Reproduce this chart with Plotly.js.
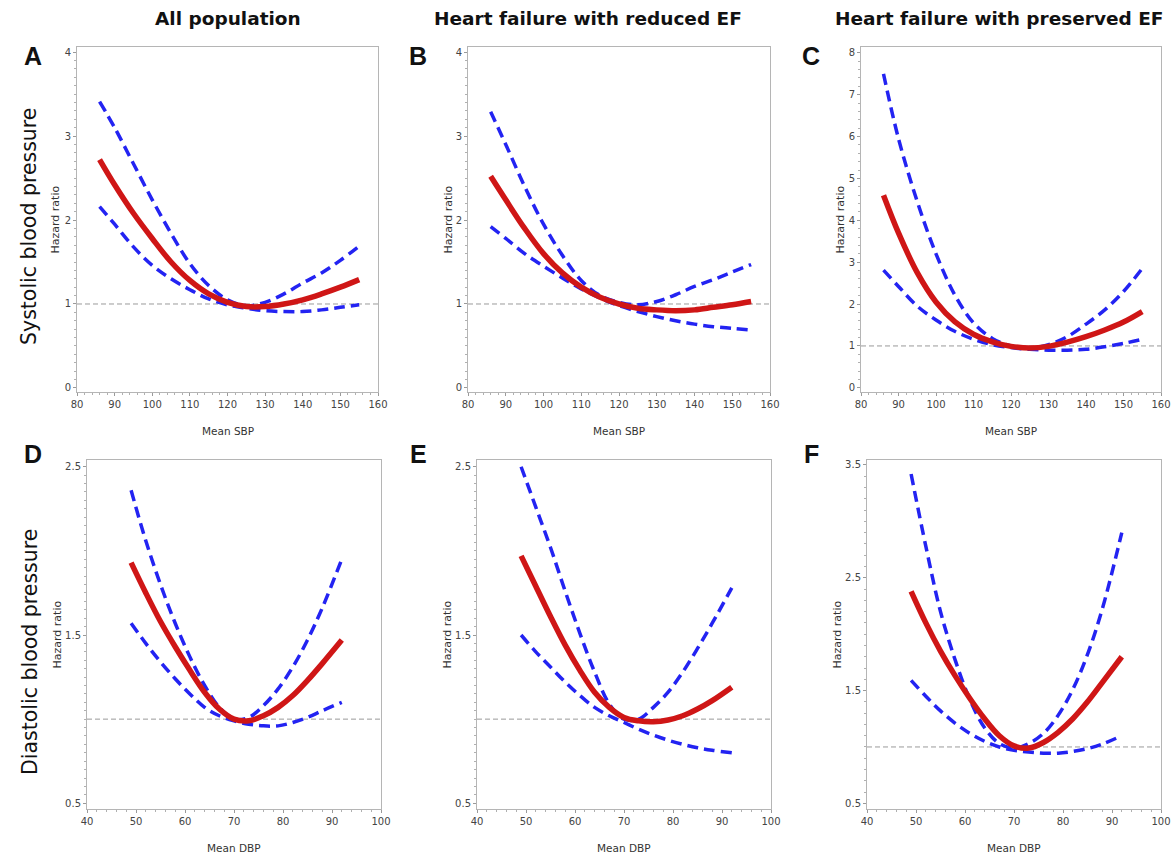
<!DOCTYPE html>
<html>
<head>
<meta charset="utf-8">
<script src="https://cdn.plot.ly/plotly-3.0.1.min.js"></script>
<style>html,body{margin:0;padding:0;background:#fff;}#chart{width:1171px;height:854px;}</style>
</head>
<body>
<div id="chart"></div>
<script>
// ---- Data ----
const sbp = [86, 90, 95, 100, 105, 110, 115, 120, 125, 130, 135, 140, 145, 150, 155];
const dbp = [49, 52, 55, 58, 61, 64, 67, 70, 73, 76, 79, 82, 85, 88, 92];

// A: all population, SBP
const hrA = [2.72, 2.42, 2.08, 1.78, 1.50, 1.28, 1.12, 1.02, 0.97, 0.97, 1.00, 1.05, 1.12, 1.20, 1.29];
const hiA = [3.41, 3.10, 2.67, 2.24, 1.84, 1.48, 1.22, 1.05, 0.98, 1.02, 1.12, 1.25, 1.37, 1.52, 1.69];
const loA = [2.16, 1.95, 1.68, 1.46, 1.30, 1.17, 1.06, 0.99, 0.95, 0.92, 0.91, 0.91, 0.93, 0.96, 0.99];
// B: HFrEF, SBP
const hrB = [2.52, 2.24, 1.90, 1.60, 1.37, 1.20, 1.08, 1.00, 0.95, 0.93, 0.92, 0.93, 0.96, 0.99, 1.03];
const hiB = [3.29, 2.90, 2.40, 1.95, 1.58, 1.28, 1.10, 1.02, 0.99, 1.03, 1.11, 1.21, 1.29, 1.38, 1.47];
const loB = [1.92, 1.78, 1.60, 1.45, 1.31, 1.18, 1.07, 0.98, 0.91, 0.85, 0.80, 0.76, 0.73, 0.71, 0.69];
// C: HFpEF, SBP
const hrC = [4.60, 3.70, 2.75, 2.05, 1.58, 1.28, 1.10, 0.99, 0.95, 0.99, 1.09, 1.22, 1.38, 1.57, 1.82];
const hiC = [7.50, 5.95, 4.45, 3.20, 2.22, 1.55, 1.18, 1.00, 0.95, 1.03, 1.22, 1.52, 1.86, 2.30, 2.85];
const loC = [2.81, 2.42, 1.95, 1.62, 1.35, 1.16, 1.03, 0.96, 0.92, 0.90, 0.90, 0.92, 0.98, 1.06, 1.16];
// D: all population, DBP
const hrD = [1.93, 1.75, 1.58, 1.43, 1.29, 1.16, 1.06, 1.00, 0.99, 1.02, 1.07, 1.14, 1.23, 1.33, 1.47];
const hiD = [2.36, 2.06, 1.80, 1.57, 1.37, 1.20, 1.07, 1.00, 1.01, 1.08, 1.18, 1.31, 1.47, 1.66, 1.95];
const loD = [1.57, 1.45, 1.34, 1.24, 1.15, 1.07, 1.02, 0.99, 0.97, 0.96, 0.96, 0.98, 1.01, 1.05, 1.10];
// E: HFrEF, DBP
const hrE = [1.97, 1.79, 1.61, 1.44, 1.29, 1.16, 1.07, 1.01, 0.99, 0.985, 0.995, 1.02, 1.06, 1.11, 1.19];
const hiE = [2.50, 2.26, 2.02, 1.76, 1.51, 1.28, 1.09, 1.00, 1.00, 1.07, 1.16, 1.28, 1.42, 1.57, 1.78];
const loE = [1.50, 1.40, 1.31, 1.22, 1.14, 1.07, 1.02, 0.98, 0.94, 0.905, 0.875, 0.85, 0.83, 0.815, 0.80];
// F: HFpEF, DBP
const hrF = [2.38, 2.10, 1.85, 1.63, 1.43, 1.25, 1.10, 1.01, 0.99, 1.04, 1.13, 1.25, 1.40, 1.57, 1.80];
const hiF = [3.42, 2.78, 2.20, 1.77, 1.42, 1.17, 1.03, 0.99, 1.03, 1.12, 1.28, 1.51, 1.82, 2.22, 2.90];
const loF = [1.59, 1.45, 1.32, 1.21, 1.12, 1.05, 1.00, 0.97, 0.955, 0.945, 0.945, 0.96, 0.985, 1.025, 1.10];

const colTitles = ["All population", "Heart failure with reduced EF", "Heart failure with preserved EF"];
const rowTitles = ["Systolic blood pressure", "Diastolic blood pressure"];
const panelLetters = ["A", "B", "C", "D", "E", "F"];
const yTitle = "Hazard ratio";
const xTitles = ["Mean SBP", "Mean DBP"];
const refHR = 1;

const sbpTicks = [80, 90, 100, 110, 120, 130, 140, 150, 160];
const dbpTicks = [40, 50, 60, 70, 80, 90, 100];
const yTicksAB = [0, 1, 2, 3, 4];
const yTicksC = [0, 1, 2, 3, 4, 5, 6, 7, 8];
const yTicksDE = [0.5, 1.5, 2.5];
const yTicksF = [0.5, 1.5, 2.5, 3.5];

// ---- Layout geometry (pixels) ----
const W = 1171, H = 854;
const panels = [
  {x: sbp, hr: hrA, hi: hiA, lo: loA, px: [77, 378], py: [47, 392], xr: [80, 160], yr: [-0.048, 4.06], xt: sbpTicks, yt: yTicksAB, ymin: 0.1, row: 0, tOff: 22},
  {x: sbp, hr: hrB, hi: hiB, lo: loB, px: [468, 770], py: [47, 392], xr: [80, 160], yr: [-0.048, 4.06], xt: sbpTicks, yt: yTicksAB, ymin: 0.1, row: 0, tOff: 20},
  {x: sbp, hr: hrC, hi: hiC, lo: loC, px: [861, 1161], py: [47, 392], xr: [80, 160], yr: [-0.10, 8.14], xt: sbpTicks, yt: yTicksC, ymin: 0.2, row: 0, tOff: 21},
  {x: dbp, hr: hrD, hi: hiD, lo: loD, px: [87, 381], py: [460, 809], xr: [40, 100], yr: [0.466, 2.54], xt: dbpTicks, yt: yTicksDE, ymin: 0.05, row: 1, tOff: 30},
  {x: dbp, hr: hrE, hi: hiE, lo: loE, px: [477, 771], py: [460, 809], xr: [40, 100], yr: [0.466, 2.54], xt: dbpTicks, yt: yTicksDE, ymin: 0.05, row: 1, tOff: 30},
  {x: dbp, hr: hrF, hi: hiF, lo: loF, px: [867, 1161], py: [460, 809], xr: [40, 100], yr: [0.45, 3.544], xt: dbpTicks, yt: yTicksF, ymin: 0.1, row: 1, tOff: 30}
];

const RED = '#cf1616', BLUE = '#2323f2';
const tickFont = {family: 'DejaVu Sans, Arial, sans-serif', size: 10, color: '#444'};
const traces = [], shapes = [], annotations = [];
const layout = {
  width: W, height: H, margin: {l: 0, r: 0, t: 0, b: 0},
  paper_bgcolor: '#fff', plot_bgcolor: '#fff', showlegend: false
};

panels.forEach((p, i) => {
  const n = i + 1;
  const xa = 'x' + (n === 1 ? '' : n), ya = 'y' + (n === 1 ? '' : n);
  const xk = 'xaxis' + (n === 1 ? '' : n), yk = 'yaxis' + (n === 1 ? '' : n);
  layout[xk] = {
    domain: [p.px[0] / W, p.px[1] / W], anchor: ya, range: p.xr,
    tickmode: 'array', tickvals: p.xt, ticktext: p.xt.map(String),
    showline: true, mirror: true, linecolor: '#b5b5b5', linewidth: 1,
    ticks: 'outside', ticklen: 3, tickcolor: '#9a9a9a', tickfont: tickFont,
    minor: {ticks: 'outside', ticklen: 2, dtick: 2, tickcolor: '#b0b0b0', showgrid: false},
    showgrid: false, zeroline: false, fixedrange: true
  };
  layout[yk] = {
    domain: [1 - p.py[1] / H, 1 - p.py[0] / H], anchor: xa, range: p.yr,
    tickmode: 'array', tickvals: p.yt, ticktext: p.yt.map(String),
    showline: true, mirror: true, linecolor: '#b5b5b5', linewidth: 1,
    ticks: 'outside', ticklen: 3, tickcolor: '#9a9a9a', tickfont: tickFont,
    minor: {ticks: 'outside', ticklen: 2, dtick: p.ymin, tick0: 0, tickcolor: '#b0b0b0', showgrid: false},
    showgrid: false, zeroline: false, fixedrange: true
  };
  // reference line HR = 1
  shapes.push({type: 'line', xref: xa + ' domain', yref: ya, x0: 0, x1: 1, y0: refHR, y1: refHR,
    line: {color: '#9a9a9a', width: 1, dash: '5px,3px'}, layer: 'below'});
  const common = {xaxis: xa, yaxis: ya, mode: 'lines', hoverinfo: 'skip'};
  traces.push(Object.assign({x: p.x, y: p.lo, line: {color: BLUE, width: 3.5, dash: '11px,6px', shape: 'spline', smoothing: 1}}, common));
  traces.push(Object.assign({x: p.x, y: p.hi, line: {color: BLUE, width: 3.5, dash: '11px,6px', shape: 'spline', smoothing: 1}}, common));
  traces.push(Object.assign({x: p.x, y: p.hr, line: {color: RED, width: 5.5, shape: 'spline', smoothing: 1}}, common));

  // axis titles
  const cx = (p.px[0] + p.px[1]) / 2, cy = (p.py[0] + p.py[1]) / 2;
  annotations.push({xref: 'paper', yref: 'paper', x: cx / W, y: 1 - (p.py[1] + 39) / H,
    text: xTitles[p.row], showarrow: false, xanchor: 'center', yanchor: 'middle',
    font: {family: 'DejaVu Sans, Arial, sans-serif', size: 10.5, color: '#333'}});
  annotations.push({xref: 'paper', yref: 'paper', x: (p.px[0] - p.tOff) / W, y: 1 - cy / H,
    text: yTitle, showarrow: false, textangle: -90, xanchor: 'center', yanchor: 'middle',
    font: {family: 'DejaVu Sans, Arial, sans-serif', size: 11, color: '#333'}});
});

// panel letters
const letterPos = [[33, 56], [418, 56], [811, 56], [33, 454], [418, 454], [811, 454]];
panelLetters.forEach((L, i) => {
  annotations.push({xref: 'paper', yref: 'paper', x: letterPos[i][0] / W, y: 1 - letterPos[i][1] / H,
    text: '<b>' + L + '</b>', showarrow: false, xanchor: 'center', yanchor: 'middle',
    font: {family: 'Liberation Sans, Arial, sans-serif', size: 25, color: '#111'}});
});
// column titles
const colLeft = [153, 432, 833];
colTitles.forEach((t, i) => {
  annotations.push({xref: 'paper', yref: 'paper', x: colLeft[i] / W, y: 1 - 18 / H,
    text: '<b>' + t + '</b>', showarrow: false, xanchor: 'left', yanchor: 'middle',
    font: {family: 'DejaVu Sans, Arial, sans-serif', size: 18.5, color: '#111'}});
});
// row titles
const rowPos = [[29, 227], [30, 652]];
rowTitles.forEach((t, i) => {
  annotations.push({xref: 'paper', yref: 'paper', x: rowPos[i][0] / W, y: 1 - rowPos[i][1] / H,
    text: t, showarrow: false, textangle: -90, xanchor: 'center', yanchor: 'middle',
    font: {family: 'DejaVu Sans, Arial, sans-serif', size: 20.5, color: '#111'}});
});

layout.shapes = shapes;
layout.annotations = annotations;
Plotly.newPlot('chart', traces, layout, {staticPlot: true, displayModeBar: false});
</script>
</body>
</html>
